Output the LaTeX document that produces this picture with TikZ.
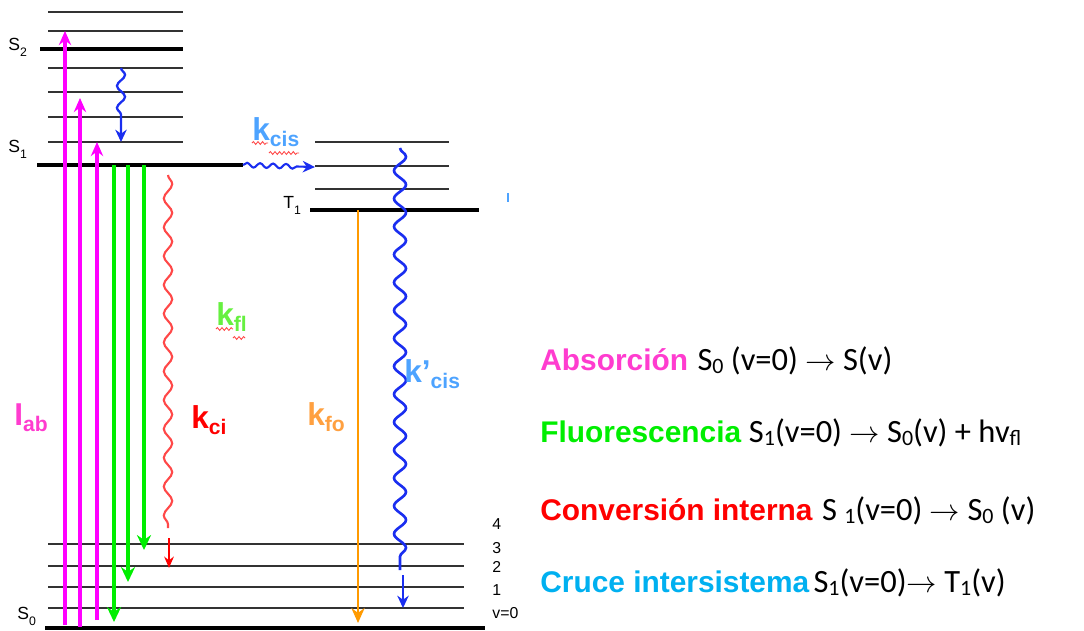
\documentclass[tikz,border=0pt]{standalone}
\usepackage{fontspec}
\setmainfont{Liberation Sans}
\newfontfamily\formfont{Carlito}
\usetikzlibrary{arrows.meta,positioning,decorations.pathmorphing}
\definecolor{rosa}{HTML}{FF00FF}
\definecolor{rosatexto}{HTML}{FF3CCF}
\definecolor{verde}{HTML}{00EE00}
\definecolor{verdeclaro}{HTML}{66F040}
\definecolor{rojo}{HTML}{FF0000}
\definecolor{rojoclaro}{HTML}{FF4848}
\definecolor{azul}{HTML}{1A2EF0}
\definecolor{celeste}{HTML}{4DA3FF}
\definecolor{cian}{HTML}{00B0F0}
\definecolor{naranja}{HTML}{FF9A00}
\definecolor{naranjaclaro}{HTML}{FFA040}
\newcommand{\ksub}[1]{\raisebox{-0.22em}{\fontsize{12}{12}\selectfont #1}}
\newcommand{\esub}[1]{\raisebox{-3.5pt}{\fontsize{7}{7}\selectfont #1}}
\newcommand{\fsub}[1]{\raisebox{-0.12em}{\fontsize{12.5}{12.5}\selectfont #1}}
\tikzset{
  nivel/.style={line width=1.1pt,black!80},
  nivelS/.style={line width=2.3pt,black},
  flecharosa/.style={-{Stealth[length=8pt,width=7pt]},line width=1.9pt,rosa},
  flechaverde/.style={-{Stealth[length=8.5pt,width=8pt]},line width=1.8pt,verde},
  flecharoja/.style={-{Stealth[length=6.5pt,width=5.5pt]},line width=1.1pt,rojo},
  flechaazul/.style={-{Stealth[length=7pt,width=6.5pt]},line width=1.3pt,azul},
  flechanaranja/.style={-{Stealth[length=8.5pt,width=7.5pt]},line width=1.7pt,naranja},
  subrayado/.style={rojoclaro,line width=0.5pt,decorate,decoration={snake,segment length=2.6pt,amplitude=0.8pt}},
  estado/.style={font=\fontsize{10}{10}\selectfont,inner sep=0pt,anchor=base west},
  numero/.style={font=\fontsize{9}{9}\selectfont,inner sep=0pt,anchor=west},
  etiq/.style={font=\fontsize{18}{18}\selectfont\bfseries,inner sep=0pt,anchor=base west},
  proceso/.style={font=\fontsize{17}{17}\selectfont\bfseries,inner sep=0pt,anchor=base west},
  formula/.style={font=\formfont\fontsize{18.5}{18.5}\selectfont,inner sep=0pt},
}
\begin{document}
\begin{tikzpicture}[x=0.02cm,y=-0.02cm]
  \useasboundingbox (0,0) rectangle (1084,630);
  % niveles S2 / S1
  \foreach \y in {12,31,68,92,117,142} \draw[nivel] (48,\y) -- (183,\y);
  \draw[nivelS] (40,49) coordinate (s2a) -- (183,49) coordinate (s2b);
  \draw[nivelS] (37,165) coordinate (s1a) -- (243,165) coordinate (s1b);
  % niveles T1
  \foreach \y in {142,166,189} \draw[nivel] (315,\y) -- (449,\y);
  \draw[nivelS] (310,210) coordinate (t1a) -- (479,210) coordinate (t1b);
  % niveles S0
  \foreach \y in {544,566,587,608} \draw[nivel] (48,\y) -- (464,\y);
  \draw[nivelS] (45,628) coordinate (s0a) -- (485,628) coordinate (s0b);
  \draw[celeste,line width=1pt] (508,193) -- (508,202);
  % estados
  \node[estado] (lS2) at (8,50) {S\esub{2}};
  \node[estado] (lS1) at (8,152) {S\esub{1}};
  \node[estado] (lT1) at (283,208) {T\esub{1}};
  \node[estado] (lS0) at (17,619) {S\esub{0}};
  \foreach \n/\y in {4/524,3/548,2/567,1/590,v=0/613} \node[numero] (v\y) at (492,\y) {\n};
  % absorcion y fluorescencia
  \foreach \x/\ya/\yb [count=\i] in {65/625/31,80/627/98,97/620/142} {
    \coordinate (abI\i) at (\x,\ya); \coordinate (abF\i) at (\x,\yb);
    \draw[flecharosa] (abI\i) -- (abF\i);
  }
  \foreach \x/\yb [count=\i] in {114/622,128/582,144/550} {
    \coordinate (flI\i) at (\x,165); \coordinate (flF\i) at (\x,\yb);
    \draw[flechaverde] (flI\i) -- (flF\i);
  }
  % relajacion y conversion interna
  \coordinate (rvI) at (121,68); \coordinate (rvF) at (121,142);
  \draw[flechaazul,decorate,decoration={snake,segment length=12.5pt,amplitude=2.3pt,post length=15pt}] (rvI) -- (rvF);
  \coordinate (ciI) at (168,175); \coordinate (ciM) at (168,528);
  \coordinate (ciA) at (169,538); \coordinate (ciF) at (169,568);
  \draw[rojoclaro,line width=1.2pt,decorate,decoration={snake,segment length=16.4pt,amplitude=2.4pt}] (ciI) -- (ciM);
  \draw[flecharoja] (ciA) -- (ciF);
  % cruce intersistema
  \coordinate (cisI) at (s1b); \coordinate (cisF) at (315,167);
  \draw[flechaazul,line width=1.2pt,decorate,decoration={snake,segment length=7.4pt,amplitude=1.3pt,post length=9.5pt}] (cisI) -- (cisF);
  \coordinate (cpI) at (400,148); \coordinate (cpM) at (400,570);
  \coordinate (cpA) at (403,575); \coordinate (cpF) at (403,608);
  \draw[azul,line width=1.5pt,decorate,decoration={snake,segment length=15.9pt,amplitude=3.4pt}] (cpI) -- (cpM);
  \draw[flechaazul] (cpA) -- (cpF);
  % fosforescencia
  \coordinate (foI) at (358,210); \coordinate (foF) at (358,623);
  \draw[flechanaranja] (foI) -- (foF);
  % constantes
  \node[etiq,text=rosatexto] (iab) at (14,425) {I\ksub{ab}};
  \node[etiq,text=celeste] (kcis) at (252,140) {k\ksub{cis}};
  \node[etiq,text=verdeclaro] (kfl) at (216,325) {k\ksub{fl}};
  \node[etiq,text=rojo] (kci) at (191,428) {k\ksub{ci}};
  \node[etiq,text=naranjaclaro] (kfo) at (307,425) {k\ksub{fo}};
  \node[etiq,text=celeste] (kcisp) at (404,382) {k’\ksub{cis}};
  \draw[subrayado] (252,143) -- (268,143);
  \draw[subrayado] (269,153) -- (299,153);
  \draw[subrayado] (216,329) -- (233,329);
  \draw[subrayado] (233,338) -- (245,338);
  % procesos
  \node[proceso,text=rosatexto] (abs) at (540,370) {Absorción};
  \node[formula,right=5pt of abs.base east,anchor=base west] (fabs) {S\fsub{0} (v=0) $\rightarrow$ S(v)};
  \node[proceso,text=verde] (flu) at (540,442) {Fluorescencia};
  \node[formula,right=4pt of flu.base east,anchor=base west] (fflu) {S\fsub{1}(v=0) $\rightarrow$ S\fsub{0}(v) + hv\fsub{fl}};
  \node[proceso,text=rojo] (con) at (540,520) {Conversión interna};
  \node[formula,right=5pt of con.base east,anchor=base west] (fcon) {S \fsub{1}(v=0) $\rightarrow$ S\fsub{0} (v)};
  \node[proceso,text=cian] (cru) at (540,592) {Cruce intersistema};
  \node[formula,right=2pt of cru.base east,anchor=base west] (fcru) {S\fsub{1}(v=0)$\rightarrow$ T\fsub{1}(v)};
\end{tikzpicture}
\end{document}
